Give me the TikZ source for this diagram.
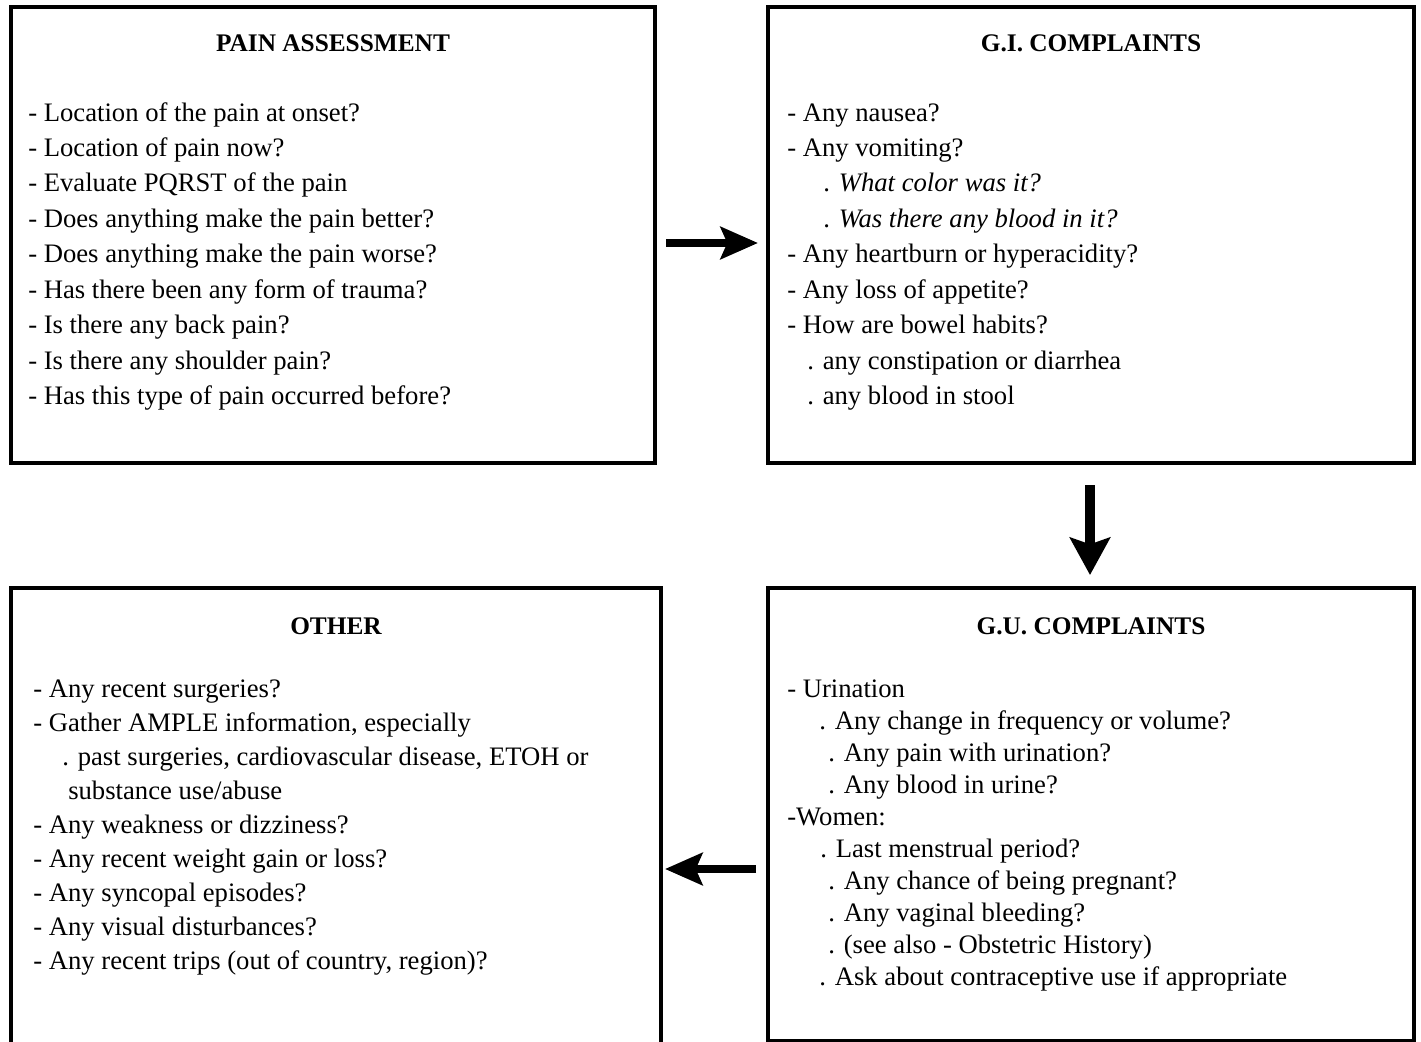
\documentclass[tikz,border=0pt]{standalone}
\usepackage{fontspec}
\setmainfont{Liberation Serif}
\usetikzlibrary{arrows.meta}
\newlength\pxu \setlength\pxu{0.75pt}
\begin{document}
\begin{tikzpicture}[x=0.75pt,y=-0.75pt,
  box/.style={draw, line width=3pt, rectangle, inner sep=0pt},
  ttl/.style={anchor=base, inner sep=0pt, font=\fontsize{19}{22}\selectfont\bfseries},
  body/.style={anchor=base west, inner sep=0pt, font=\fontsize{20}{26.6}\selectfont},
  bigarrow/.style={line width=6pt, -{Stealth[length=28pt,width=24pt,inset=5pt]}}
]
\clip (0,0) rectangle (1421,1042);
% boxes
\node[box, minimum width={644*0.75pt}, minimum height={456*0.75pt}] (pain) at (333,235) {};
\node[box, minimum width={646*0.75pt}, minimum height={456*0.75pt}] (gi) at (1091,235) {};
\node[box, minimum width={650*0.75pt}, minimum height={492*0.75pt}] (other) at (336,834) {};
\node[box, minimum width={646*0.75pt}, minimum height={453*0.75pt}] (gu) at (1091,814.5) {};
% titles
\node[ttl] (painH) at (333,51) {PAIN ASSESSMENT};
\node[ttl] (giH) at (1091,51) {G.I. COMPLAINTS};
\node[ttl] (otherH) at (336,634) {OTHER};
\node[ttl] (guH) at (1091,634) {G.U. COMPLAINTS};
% texts
\node[body] (painT) at (28,121) {\begin{tabular}[t]{@{}l@{}}
- Location of the pain at onset?\\
- Location of pain now?\\
- Evaluate PQRST of the pain\\
- Does anything make the pain better?\\
- Does anything make the pain worse?\\
- Has there been any form of trauma?\\
- Is there any back pain?\\
- Is there any shoulder pain?\\
- Has this type of pain occurred before?
\end{tabular}};
\node[body] (giT) at (787,121) {\begin{tabular}[t]{@{}l@{}}
- Any nausea?\\
- Any vomiting?\\
\hspace*{36\pxu}. \textit{What color was it?}\\
\hspace*{36\pxu}. \textit{Was there any blood in it?}\\
- Any heartburn or hyperacidity?\\
- Any loss of appetite?\\
- How are bowel habits?\\
\hspace*{20\pxu}. any constipation or diarrhea\\
\hspace*{20\pxu}. any blood in stool
\end{tabular}};
\node[body, font=\fontsize{20}{25.5}\selectfont] (otherT) at (33,697) {\begin{tabular}[t]{@{}l@{}}
- Any recent surgeries?\\
- Gather AMPLE information, especially\\
\hspace*{29\pxu}. past surgeries, cardiovascular disease, ETOH or\\
\hspace*{35\pxu}substance use/abuse\\
- Any weakness or dizziness?\\
- Any recent weight gain or loss?\\
- Any syncopal episodes?\\
- Any visual disturbances?\\
- Any recent trips (out of country, region)?
\end{tabular}};
\node[body, font=\fontsize{20}{24}\selectfont] (guT) at (787,697) {\begin{tabular}[t]{@{}l@{}}
- Urination\\
\hspace*{32\pxu}. Any change in frequency or volume?\\
\hspace*{41\pxu}. Any pain with urination?\\
\hspace*{41\pxu}. Any blood in urine?\\
-Women:\\
\hspace*{33\pxu}. Last menstrual period?\\
\hspace*{41\pxu}. Any chance of being pregnant?\\
\hspace*{41\pxu}. Any vaginal bleeding?\\
\hspace*{41\pxu}. (see also - Obstetric History)\\
\hspace*{32\pxu}. Ask about contraceptive use if appropriate
\end{tabular}};
% arrows
\draw[bigarrow] ([shift={(9,8)}]pain.east) -- ([shift={(-8,8)}]gi.west);
\draw[line width=7pt, -{Stealth[length=28pt,width=30pt,inset=5pt]}] ([shift={(-1,20)}]gi.south) -- ([shift={(-1,-11)}]gu.north);
\draw[bigarrow] ([shift={(-10,54.5)}]gu.west) -- ([shift={(2,35)}]other.east);
\end{tikzpicture}
\end{document}
